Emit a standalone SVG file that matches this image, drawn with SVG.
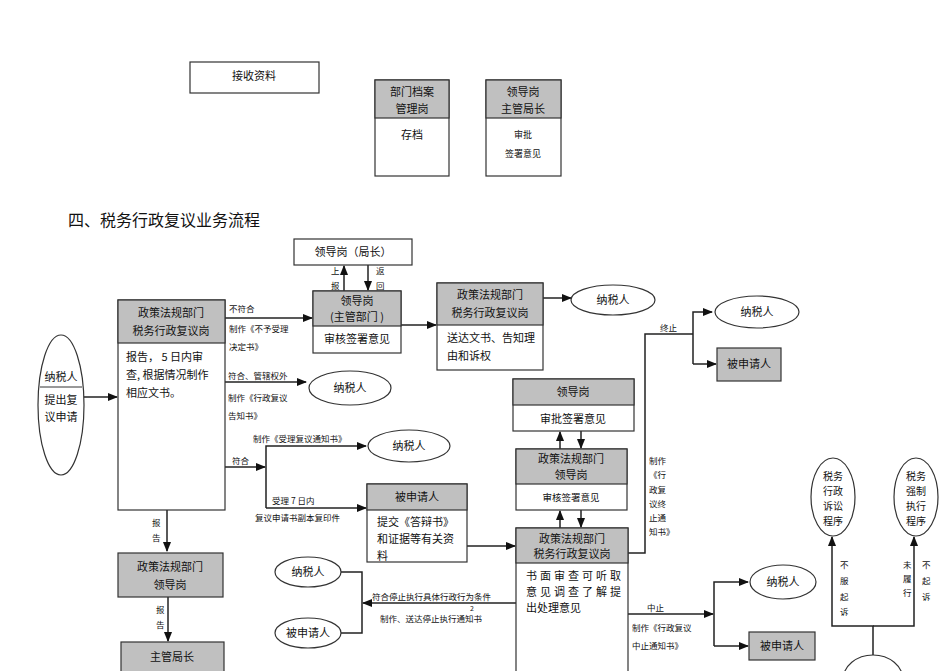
<svg xmlns="http://www.w3.org/2000/svg" width="950" height="671" viewBox="0 0 950 671">
<style>
text{font-family:"Noto Sans CJK SC","Liberation Sans",sans-serif;fill:#111;}
.t{font-size:11px;text-anchor:middle}
.e{font-size:10px;text-anchor:middle}
.s{font-size:8.5px}
.b{fill:#fff;stroke:#333;stroke-width:1.2}
.h{fill:#c0c0c0;stroke:#333;stroke-width:1.2}
.c path,.c line{fill:none;stroke:#222;stroke-width:1.5}
</style>
<defs><marker id="a" viewBox="0 0 10 10" refX="9" refY="5" markerWidth="7" markerHeight="7" orient="auto"><path d="M0,1L10,5L0,9z" fill="#111"/></marker></defs>
<rect width="950" height="671" fill="#fff"/>
<g id="recv"><rect class="b" x="190" y="62" width="129" height="31"/><text class="t" x="254" y="80">接收资料</text></g>
<g id="archive"><rect class="b" x="375" y="80" width="74" height="96"/><rect class="h" x="375" y="80" width="74" height="38"/><text class="t" x="412" y="96">部门档案</text><text class="t" x="412" y="113">管理岗</text><text class="t" x="412" y="139">存档</text></g>
<g id="leader0"><rect class="b" x="486" y="80" width="75" height="96"/><rect class="h" x="486" y="80" width="75" height="38"/><text class="t" x="523" y="96">领导岗</text><text class="t" x="523" y="113">主管局长</text><text class="t" x="523" y="138" style="font-size:9px">审批</text><text class="t" x="523" y="157" style="font-size:9px">签署意见</text></g>
<text x="68" y="226" style="font-size:16px">四、税务行政复议业务流程</text>
<g class="c">
<line x1="344" y1="291" x2="344" y2="266" marker-end="url(#a)"/>
<line x1="368" y1="265" x2="368" y2="290" marker-end="url(#a)"/>
<line x1="401" y1="325" x2="436" y2="325" marker-end="url(#a)"/>
<line x1="543" y1="298" x2="571" y2="298" marker-end="url(#a)"/>
<line x1="84" y1="397" x2="117" y2="397" marker-end="url(#a)"/>
<line x1="225" y1="318" x2="312" y2="318" marker-end="url(#a)"/>
<line x1="225" y1="382" x2="306" y2="382" marker-end="url(#a)"/>
<line x1="225" y1="467" x2="265" y2="467" marker-end="url(#a)"/>
<path d="M266,508V446H366" marker-end="url(#a)"/>
<line x1="266" y1="508" x2="366" y2="508" marker-end="url(#a)"/>
<line x1="467" y1="546" x2="515" y2="546" marker-end="url(#a)"/>
<line x1="560" y1="449" x2="560" y2="432" marker-end="url(#a)"/>
<line x1="581" y1="431" x2="581" y2="448" marker-end="url(#a)"/>
<line x1="560" y1="528" x2="560" y2="511" marker-end="url(#a)"/>
<line x1="581" y1="510" x2="581" y2="527" marker-end="url(#a)"/>
<path d="M628,553H645V334H693"/>
<path d="M693,364V312H712" marker-end="url(#a)"/>
<line x1="693" y1="364" x2="716" y2="364" marker-end="url(#a)"/>
<line x1="516" y1="603" x2="363" y2="603" marker-end="url(#a)"/>
<path d="M341,572H362V633H341"/>
<line x1="628" y1="614" x2="713" y2="614" marker-end="url(#a)"/>
<path d="M714,646V582H748" marker-end="url(#a)"/>
<line x1="714" y1="646" x2="748" y2="646" marker-end="url(#a)"/>
<path d="M873,671V626H832V537" marker-end="url(#a)"/>
<path d="M873,626H914V537" marker-end="url(#a)"/>
<line x1="167" y1="510" x2="167" y2="551" marker-end="url(#a)"/>
<line x1="168" y1="597" x2="168" y2="641" marker-end="url(#a)"/>
</g>
<g id="labels" class="s">
<text x="331" y="274">上</text><text x="331" y="289">报</text>
<text x="376" y="274">返</text><text x="376" y="289">回</text>
<text x="229" y="312">不符合</text><text x="229" y="332">制作《不予受理</text><text x="229" y="350">决定书》</text>
<text x="228" y="379">符合、管辖权外</text><text x="228" y="401">制作《行政复议</text><text x="228" y="419">告知书》</text>
<text x="253" y="442">制作《受理复议通知书》</text>
<text x="232" y="464">符合</text>
<text x="272" y="504">受理 7 日内</text><text x="255" y="521">复议申请书副本复印件</text>
<text x="372" y="600">符合停止执行具体行政行为条件</text><text x="470" y="611" style="font-size:7px">2</text><text x="380" y="622">制作、送达停止执行通知书</text>
<text x="660" y="331">终止</text>
<text x="649" y="464">制作</text><text x="649" y="478">《行</text><text x="649" y="493">政复</text><text x="649" y="507">议终</text><text x="649" y="521">止通</text><text x="649" y="535">知书》</text>
<text x="647" y="611">中止</text><text x="632" y="631">制作《行政复议</text><text x="632" y="649">中止通知书》</text>
<text x="152" y="526">报</text><text x="152" y="541">告</text>
<text x="156" y="613">报</text><text x="156" y="628">告</text>
<text x="840" y="568">不</text><text x="840" y="584">服</text><text x="840" y="600">起</text><text x="840" y="615">诉</text>
<text x="903" y="568">未</text><text x="903" y="582">履</text><text x="903" y="596">行</text>
<text x="922" y="568">不</text><text x="922" y="584">起</text><text x="922" y="600">诉</text>
</g>
<g id="juzhang"><rect class="b" x="294" y="239" width="118" height="26"/><text class="t" x="353" y="256">领导岗（局长）</text></g>
<g id="zhuguan"><rect class="b" x="313" y="291" width="88" height="62"/><rect class="h" x="313" y="291" width="88" height="35"/><text class="t" x="357" y="305">领导岗</text><text class="t" x="357" y="321">(主管部门 )</text><text class="t" x="357" y="343">审核签署意见</text></g>
<g id="songda"><rect class="b" x="437" y="283" width="106" height="87"/><rect class="h" x="437" y="283" width="106" height="42"/><text class="t" x="490" y="299">政策法规部门</text><text class="t" x="490" y="317">税务行政复议岗</text><text x="447" y="342" style="font-size:11px">送达文书、告知理</text><text x="447" y="360" style="font-size:11px">由和诉权</text></g>
<g id="nsr1"><ellipse class="b" cx="613" cy="300" rx="42" ry="15"/><text class="t" x="613" y="304">纳税人</text></g>
<g id="applicant"><ellipse class="b" cx="61" cy="405" rx="23" ry="70"/><line x1="40" y1="387" x2="82" y2="387" stroke="#333"/><text class="t" x="61" y="381">纳税人</text><text class="t" x="61" y="404">提出复</text><text class="t" x="61" y="421">议申请</text></g>
<g id="main"><rect class="b" x="118" y="300" width="107" height="210"/><rect class="h" x="118" y="300" width="107" height="43"/><text class="t" x="171" y="317">政策法规部门</text><text class="t" x="171" y="335">税务行政复议岗</text><text x="126" y="361" style="font-size:11px">报告，   5 日内审</text><text x="126" y="379" style="font-size:11px">查, 根据情况制作</text><text x="126" y="397" style="font-size:11px">相应文书。</text></g>
<g id="nsr2"><ellipse class="b" cx="350" cy="388" rx="41" ry="17"/><text class="t" x="350" y="392">纳税人</text></g>
<g id="nsr3"><ellipse class="b" cx="409" cy="446" rx="41" ry="16"/><text class="t" x="409" y="450">纳税人</text></g>
<g id="bsqr1"><rect class="b" x="367" y="484" width="100" height="78"/><rect class="h" x="367" y="484" width="100" height="26"/><text class="t" x="417" y="501">被申请人</text><text x="377" y="526" style="font-size:11px">提交《答辩书》</text><text x="377" y="543" style="font-size:11px">和证据等有关资</text><text x="377" y="560" style="font-size:11px">料</text></g>
<g id="ld1"><rect class="b" x="513" y="379" width="121" height="52"/><rect class="h" x="513" y="379" width="121" height="26"/><text class="t" x="573" y="396">领导岗</text><text class="t" x="573" y="423">审批签署意见</text></g>
<g id="ld2"><rect class="b" x="516" y="449" width="111" height="61"/><rect class="h" x="516" y="449" width="111" height="35"/><text class="t" x="571" y="463">政策法规部门</text><text class="t" x="571" y="479">领导岗</text><text class="t" x="571" y="501" style="font-size:9.5px">审核签署意见</text></g>
<g id="main2"><rect class="b" x="516" y="528" width="112" height="150"/><rect class="h" x="516" y="528" width="112" height="35"/><text class="t" x="572" y="543">政策法规部门</text><text class="t" x="572" y="558">税务行政复议岗</text><text x="526" y="580" style="font-size:11px;letter-spacing:3px">书面审查可听取</text><text x="526" y="596" style="font-size:11px;letter-spacing:3px">意见调查了解提</text><text x="526" y="612" style="font-size:11px">出处理意见</text></g>
<g id="nsr4"><ellipse class="b" cx="757" cy="312" rx="42" ry="16"/><text class="t" x="757" y="316">纳税人</text></g>
<g id="bsqr2"><rect class="h" x="717" y="348" width="64" height="33"/><text class="t" x="749" y="368">被申请人</text></g>
<g id="nsr5"><ellipse class="b" cx="308" cy="572" rx="33" ry="15"/><text class="t" x="308" y="576">纳税人</text></g>
<g id="bsqr3"><ellipse class="b" cx="308" cy="633" rx="33" ry="15"/><text class="t" x="308" y="637">被申请人</text></g>
<g id="nsr6"><ellipse class="b" cx="783" cy="582" rx="33" ry="17"/><text class="t" x="783" y="586">纳税人</text></g>
<g id="bsqr4"><rect class="h" x="749" y="632" width="66" height="28"/><text class="t" x="782" y="650">被申请人</text></g>
<g id="susong"><ellipse class="b" cx="833" cy="497" rx="22" ry="39"/><text class="e" x="833" y="480">税务</text><text class="e" x="833" y="495">行政</text><text class="e" x="833" y="510">诉讼</text><text class="e" x="833" y="525">程序</text></g>
<g id="qiangzhi"><ellipse class="b" cx="916" cy="497" rx="22" ry="39"/><text class="e" x="916" y="480">税务</text><text class="e" x="916" y="495">强制</text><text class="e" x="916" y="510">执行</text><text class="e" x="916" y="525">程序</text></g>
<g id="bottomEllipse"><ellipse class="b" cx="873" cy="680" rx="30" ry="25"/></g>
<g id="ld3"><rect class="h" x="118" y="553" width="105" height="44"/><text class="t" x="170" y="571">政策法规部门</text><text class="t" x="170" y="589">领导岗</text></g>
<g id="jz"><rect class="h" x="121" y="642" width="103" height="40"/><text class="t" x="172" y="661">主管局长</text></g>
</svg>
